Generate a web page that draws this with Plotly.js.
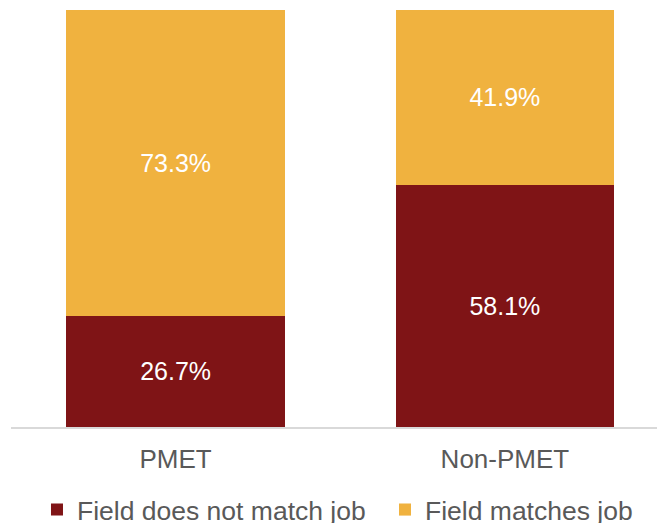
<!DOCTYPE html>
<html>
<head>
<meta charset="utf-8">
<script src="https://cdn.plot.ly/plotly-3.0.1.min.js"></script>
<style>html,body{margin:0;padding:0;background:#fff;}#chart{width:657px;height:523px;}</style>
</head>
<body>
<div id="chart"></div>
<script>
const categories = ['PMET', 'Non-PMET'];
const seriesNames = ['Field does not match job', 'Field matches job'];
const notMatch = [26.7, 58.1];
const matches = [73.3, 41.9];

const colors = ['#7F1416', '#F0B23F'];
const legendIds = ['legend', 'legend2'];
const font = 'Liberation Sans, Arial, sans-serif';

const traces = [notMatch, matches].map((vals, i) => ({
  type: 'bar',
  name: seriesNames[i],
  legend: legendIds[i],
  x: categories,
  y: vals,
  marker: {color: colors[i], line: {width: 0}},
  texttemplate: '%{y:.1f}%',
  textposition: 'inside',
  insidetextanchor: 'middle',
  textfont: {family: font, size: 25, color: '#FFFFFF'},
  hoverinfo: 'skip'
}));

function legendAt(xc) {
  return {
    orientation: 'h',
    xref: 'container', yref: 'container',
    x: xc, xanchor: 'left',
    y: 0.071, yanchor: 'top',
    font: {family: font, size: 26.5, color: '#595959'},
    bgcolor: 'rgba(0,0,0,0)',
    itemclick: false
  };
}

const layout = {
  width: 657, height: 523,
  margin: {l: 11, r: 0, t: 10, b: 96, pad: 0},
  barmode: 'stack',
  bargap: 0.337,
  paper_bgcolor: '#FFFFFF',
  plot_bgcolor: '#FFFFFF',
  font: {family: font, color: '#595959', size: 26},
  showlegend: true,
  legend: legendAt(0.0563),
  legend2: legendAt(0.586),
  xaxis: {
    range: [-0.5, 1.462],
    showline: true, linecolor: '#D9D9D9', linewidth: 1.5,
    showgrid: false, zeroline: false, ticks: '',
    ticklabelstandoff: 8,
    tickfont: {family: font, size: 26, color: '#595959'},
    fixedrange: true
  },
  yaxis: {
    range: [0, 100],
    visible: false, showgrid: false, zeroline: false,
    fixedrange: true
  }
};

Plotly.newPlot('chart', traces, layout, {displayModeBar: false, staticPlot: true});
</script>
</body>
</html>
